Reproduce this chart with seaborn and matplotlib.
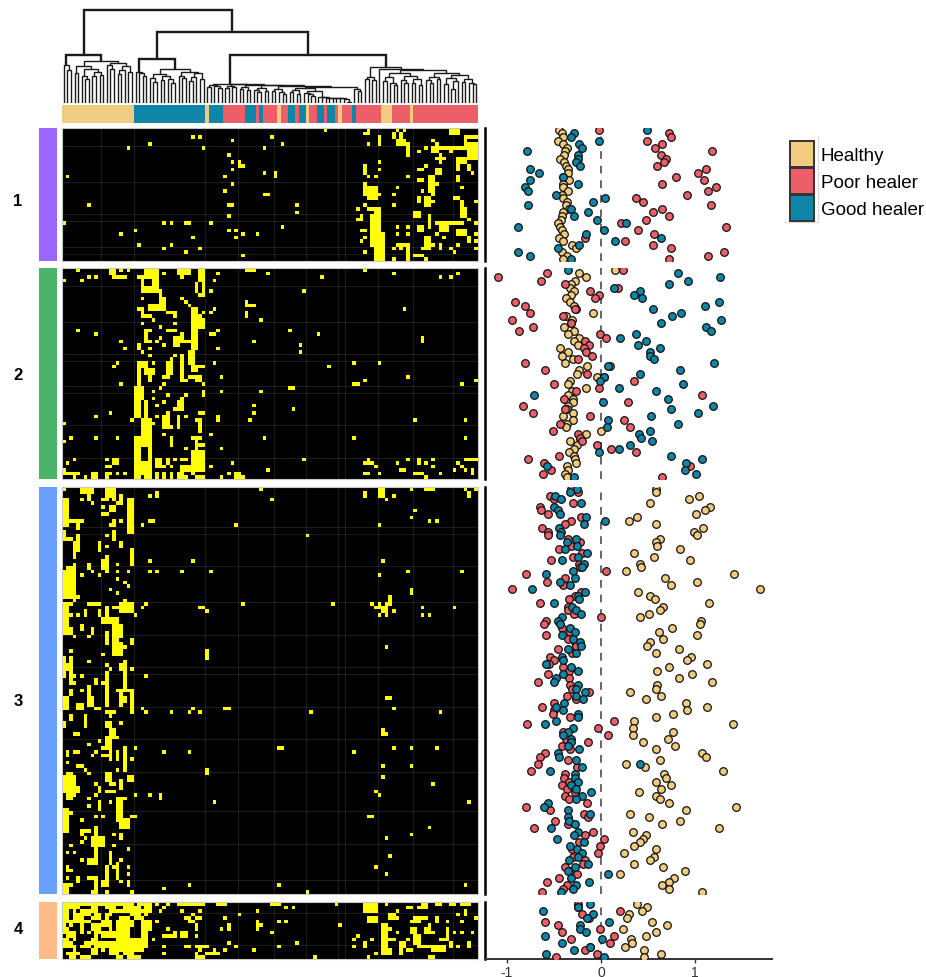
import numpy as np
import matplotlib
matplotlib.use("Agg")
import matplotlib.pyplot as plt
from matplotlib.colors import ListedColormap
from matplotlib.patches import Patch
from matplotlib.lines import Line2D
import seaborn as sns

sns.set_theme(style="white")
plt.rcParams['font.family'] = ['Liberation Sans', 'DejaVu Sans']

W, H = 926, 978
TAN, PINK, TEAL = '#F0CB80', '#EC5F69', '#0F86A8'
GROUP_NAMES = ['Healthy', 'Poor healer', 'Good healer']
N_COLS = 116
BLOCK_ROWS = [37, 59, 113, 16]
SCATTER_ROWS = [37, 59, 114, 16]
BLOCK_LABELS = ['1', '2', '3', '4']
BLOCK_COLORS = ['#9966FF', '#4CB36B', '#6AA0FF', '#FFBB88']

# sample annotation, as runs along the columns (0 healthy, 1 poor, 2 good)
ANNOT_GROUP = [0,2,0,2,1,2,1,2,1,0,1,2,1,2,0,1,2,1,2,1,0,1,2,1,0,1,0,1]
ANNOT_COUNT = [20,20,1,4,6,3,1,1,4,1,2,2,1,2,1,2,2,1,2,1,1,3,1,7,3,5,1,18]

# dendrogram as nested [height, left, right]; L is a leaf
L = None
TREE_H = [47.7, [38, L, [33, L, L]],
          [42, [37, [30, L, L], [34, [27, L, [24, L, L]], [31, [27, L, L], [28, L, L]]]],
           [40, [38, L, [34, L, L]], [37, [33, [29, L, L], L], [31, L, L]]]]]
TREE_T = [43.7, [31, L, [30, L, [27, L, L]]],
          [34, [29, [25, L, [21, L, L]], [27, [23, L, L], [24, L, [20, L, L]]]],
           [31, [27, L, [25, L, L]], [30, [26, [22, L, L], L], [24, L, L]]]]]
TREE_E = [6, L, [6, L, [5.5, L, [5.5, L, [5.5, L, [5, L, [5, L, [4.5, L, [1, L, L]]]]]]]]]
TREE_G1 = [17, [15, L, L], [16, L, L]]
TREE_G2 = [16, [14, L, L], [13, L, L]]
TREE_G3 = [15, [13, L, [11, L, L]], [12, L, L]]
TREE_G4 = [14, [12, L, L], [11, L, [9, L, L]]]
TREE_G5 = [13, [11, L, L], [9, L, L]]
TREE_G6 = [10, L, [9, L, [7, L, L]]]
TREE_R = [14, L, [12, L, L]]
TREE_PB = [19, TREE_G1, [18.5, TREE_G2, [18, TREE_G3, [17.5, TREE_G4,
           [16, [15, TREE_G5, [12, TREE_G6, TREE_E]], TREE_R]]]]]
TREE_P = [19.5, [18, [16, L, L], [17, L, [15, L, L]]], TREE_PB]
TREE_Q = [36, [26, [24, L, L], [23, L, L]],
          [34, L, [33,
           [30, [26, [22, L, L], [20, L, [18, L, L]]], [27, [23, L, [20, L, L]], [24, [20, L, L], [18, L, L]]]],
           [30, [26, [23, L, [20, L, L]], [24, L, L]],
            [28, [25, [19, L, L], [22, [14, L, L], L]], [24, [21, L, L], [20, L, [19, L, L]]]]]]]]
TREE = [93.5, TREE_H, [71, TREE_T, [47.7, TREE_P, TREE_Q]]]

# yellow cells of each block: single cells (row, col), runs (r0, r1, c0, c1)
CELLS1 = [(0,73),(0,85),(4,85),(5,18),(4,24),(2,36),(2,38),(5,39),(3,47),(2,58),(5,56),(4,61),(7,46),(9,47),(9,49),
 (11,47),(13,45),(15,47),(17,45),(12,56),(13,1),(21,7),(21,65),(23,65),(24,46),(26,0),(26,28),(26,30),(26,41),(27,61),
 (28,20),(29,16),(28,46),(28,48),(29,50),(29,54),(30,48),(30,36),(32,21),(33,28),(32,30),(33,38),(34,34),(35,50),
 (0,93),(0,95),(6,99),(5,101),(3,103),(4,104),(6,108),(0,110),(8,104),(8,106),(10,101),(9,88),(11,88),(13,85),(13,87),
 (13,96),(14,99),(14,100),(16,111),(17,100),(18,103),(15,104),(16,93),(18,92),(21,92),(20,103),(22,82),(21,84),
 (25,113),(26,115),(20,115),(27,93),(27,96),(29,93),(29,96),(29,104),(29,115),(31,115),(33,115),(30,106),(32,103),
 (32,110),(33,108),(34,109),(33,92),(33,94),(36,92),(36,101),(24,83),(34,84),(30,84),(31,83),(28,83)]
RECTS1 = [(1,1,84,85),(2,4,88,88),(1,2,92,92),(1,2,94,94),(3,4,93,95),(4,7,96,96),(5,5,104,108),(5,6,103,104),
 (2,4,112,112),(2,2,113,115),(5,5,109,113),(4,8,113,115),(1,1,108,110),(0,0,108,109),(7,9,105,105),(11,11,99,100),
 (11,12,104,105),(8,11,110,110),(9,9,111,112),(8,8,111,112),(10,11,113,113),(12,12,114,114),(13,14,110,110),
 (13,17,102,103),(10,12,84,84),(15,18,84,84),(16,19,85,86),(16,19,87,87),(18,18,88,88),(19,20,99,99),(19,21,101,102),
 (19,19,109,110),(20,22,111,111),(22,24,111,112),(23,24,98,99),(22,22,85,87),(22,32,87,88),(25,25,82,83),(24,26,86,86),
 (25,25,88,88),(27,32,86,87),(29,36,87,89),(33,36,88,89),(24,27,102,102),(27,28,99,100),(26,26,104,111),(27,28,105,107),
 (28,29,110,112),(30,31,113,113),(30,33,101,102),(33,33,100,101),(32,33,105,105),(32,32,93,96),(32,36,96,96),
 (35,35,98,100),(9,10,49,49),(10,10,50,50),(12,13,59,59),(18,18,56,57),(21,21,46,47),(26,26,34,35),(15,15,103,104),
 (28,28,83,84)]

CELLS2 = [(0,4),(0,16),(0,18),(1,57),(0,84),(1,92),(1,110),(2,105),(2,108),(2,72),(1,43),(3,42),(1,28),(2,17),(2,7),(2,9),
 (3,5),(3,0),(2,33),(6,41),(6,67),(8,22),(8,33),(9,34),(10,35),(9,51),(14,55),(11,95),(12,41),(11,42),(15,22),(15,31),
 (16,27),(14,25),(17,4),(18,9),(17,24),(19,27),(20,26),(20,24),(17,43),(17,63),(18,71),(20,53),(20,16),(22,17),(23,22),
 (22,24),(24,24),(21,28),(22,43),(21,66),(23,66),(24,33),(24,31),(25,30),(26,42),(26,15),(27,14),(26,25),(27,74),(26,81),
 (26,88),(30,38),(30,44),(30,96),(32,39),(32,28),(33,27),(32,16),(31,84),(32,111),(31,115),(34,25),(34,44),(34,55),(35,29),
 (35,34),(36,25),(37,28),(36,33),(38,26),(39,31),(41,9),(40,13),(41,26),(40,29),(44,30),(41,34),(38,53),(40,53),(42,52),
 (39,64),(42,98),(42,112),(43,0),(42,19),(43,25),(46,28),(46,41),(47,2),(47,9),(47,15),(47,56),(47,81),(47,112),(48,0),
 (50,34),(50,44),(53,3),(53,12),(54,1),(53,67),(53,85),(55,87),(54,93),(53,96),(54,101),(53,103),(55,103),(54,110),(55,111),
 (54,47),(55,41),(56,57),(56,109),(56,112),(53,31),(55,30),(58,3),(58,6),(58,12),(57,15),(57,17),(58,34),(57,36),(58,44),
 (57,46),(58,50),(57,88),(58,101),(57,105)]
RECTS2 = [(0,1,13,14),(0,2,23,26),(0,1,32,33),(0,1,34,35),(0,3,38,39),(0,0,51,53),(2,2,14,16),(2,2,21,23),(3,6,22,22),
 (3,6,25,26),(5,6,23,25),(6,8,27,27),(4,6,37,37),(3,7,39,39),(7,7,38,39),(8,10,27,28),(10,11,24,28),(11,16,36,37),
 (11,11,21,22),(11,13,22,22),(12,12,29,31),(13,13,31,31),(13,13,23,24),(14,16,38,39),(12,12,39,39),(13,13,37,38),(10,10,52,53),
 (9,10,51,51),(12,13,51,51),(17,20,23,23),(17,17,29,31),(19,21,31,32),(18,20,33,33),(20,20,34,35),(17,22,36,37),(18,18,41,42),
 (19,20,100,100),(21,22,21,21),(23,26,35,36),(26,29,29,30),(30,30,28,29),(25,31,33,33),(31,31,34,34),(27,28,36,37),
 (27,27,38,39),(26,27,21,23),(28,29,23,25),(30,31,24,24),(27,32,21,21),(33,36,20,22),(30,30,35,37),(31,31,37,38),(32,32,81,82),
 (33,33,63,64),(34,35,39,39),(37,39,32,33),(36,41,20,21),(37,41,23,23),(40,40,38,39),(41,44,28,29),(41,44,32,32),(42,42,37,38),
 (43,45,38,38),(41,42,43,43),(42,46,22,24),(47,49,20,24),(47,49,30,30),(47,47,36,38),(47,53,37,37),(49,49,38,39),
 (50,53,20,21),(49,53,24,24),(54,57,20,24),(58,58,20,21),(58,58,23,24),(53,54,14,15),(55,55,12,13),(54,54,84,86),(53,54,99,99),
 (53,53,112,115),(56,56,94,95),(56,57,114,114),(53,55,26,27),(53,54,29,29),(55,55,27,28),(53,53,33,34),(51,56,36,39),(55,56,33,35),
 (56,57,0,0),(57,57,1,4),(57,58,8,9),(57,57,12,13),(57,58,26,26),(57,58,28,28),(57,58,30,30),(57,58,32,33),(58,58,37,39),
 (57,58,48,49),(57,57,84,85),(57,57,98,100)]

CELLS3 = [(0,0),(0,55),(0,97),(0,112),(0,115),(2,24),(2,92),(3,90),(3,58),(3,5),(4,8),(3,14),(4,15),(5,11),(6,98),(8,97),(10,22),
 (10,48),(10,88),(9,16),(9,102),(9,104),(13,12),(13,68),(16,12),(20,24),(20,36),(20,89),(21,15),(21,3),(23,8),(24,5),(24,10),(23,15),
 (23,18),(23,24),(23,26),(23,33),(23,41),(23,96),(23,111),(24,88),(25,15),(26,17),(27,18),(28,13),(29,15),(30,4),(31,3),(31,17),
 (32,23),(33,22),(32,50),(32,75),(32,86),(32,88),(34,92),(33,100),(33,109),(35,100),(35,102),(35,88),(34,40),(35,20),(35,2),(35,4),
 (41,3),(41,7),(44,17),(45,2),(46,11),(44,90),(48,7),(49,12),(50,13),(50,19),(52,23),(52,5),(52,3),(56,5),(57,16),
 (58,90),(59,19),(61,22),(62,23),(62,30),(62,35),(61,36),(62,38),(62,69),(61,92),(62,105),(63,13),(65,16),(68,90),(68,4),(70,10),
 (71,7),(69,15),(72,20),(72,92),(72,97),(72,104),(73,28),(73,35),(73,81),(73,9),(74,8),(75,19),(76,1),(77,5),(78,6),(79,7),(78,15),
 (77,89),(77,97),(80,89),(82,9),(82,103),(84,87),(85,88),(85,20),(85,24),(85,3),(85,9),(86,7),(87,13),(87,42),(87,113),(88,7),
 (92,5),(91,9),(91,11),(94,102),(96,97),(97,90),(97,6),(98,5),(96,14),(99,14),(100,18),(99,2),(101,1),(101,3),(103,5),(102,91),(103,16),
 (105,14),(105,18),(107,18),(105,87),(107,90),(108,1),(109,16),(110,35),(110,60),(110,112),(111,28),(112,12),(112,19),(112,68)]
RECTS3 = [(0,1,5,8),(2,3,7,7),(0,2,12,14),(0,2,88,89),(1,2,84,84),(0,0,101,103),(1,2,113,113),(1,2,26,26),(3,3,11,12),(2,4,16,16),
 (4,6,18,19),(3,12,18,19),(5,6,13,14),(7,7,11,12),(3,10,0,1),(9,9,0,5),(10,11,4,4),(9,10,14,14),(10,10,13,13),(9,9,24,25),(12,14,0,0),
 (14,14,0,2),(13,17,4,4),(15,19,3,3),(17,17,3,4),(12,14,14,14),(15,17,10,10),(15,16,16,16),(17,21,19,19),(21,22,7,7),(19,21,12,12),
 (20,22,11,11),(22,23,12,12),(22,25,1,3),(23,30,0,3),(28,29,97,97),(32,32,0,2),(33,40,0,1),(32,32,7,10),(32,34,16,19),(30,32,91,91),
 (32,32,90,91),(33,33,87,90),(34,34,89,90),(34,35,90,90),(33,33,38,39),(33,33,14,15),(33,37,12,12),(34,35,6,6),(34,35,10,10),(36,37,11,13),
 (36,46,14,15),(38,40,16,16),(39,40,2,2),(38,39,5,5),(39,40,8,8),(40,43,12,12),(40,41,16,16),(42,43,19,19),(43,46,16,16),(46,46,14,16),
 (45,47,40,40),(47,52,0,0),(47,54,2,2),(49,50,1,1),(48,52,17,17),(49,50,16,16),(54,54,2,3),(53,54,9,9),(51,60,12,12),(54,54,11,11),
 (52,56,17,17),(56,56,15,19),(56,58,19,19),(56,57,2,2),(55,57,7,7),(58,58,90,91),(58,60,16,16),(58,59,17,17),(58,61,0,1),(58,60,7,8),
 (60,61,4,5),(61,61,9,10),(60,62,19,19),(61,61,45,46),(62,62,12,14),(63,64,2,2),(65,66,0,0),(63,66,6,6),(65,66,12,13),(67,69,13,14),
 (67,68,89,89),(68,68,3,4),(69,71,12,13),(72,72,11,13),(72,72,60,61),(73,74,1,1),(73,73,3,4),(73,75,13,13),(73,75,15,15),(72,78,17,17),
 (74,74,11,12),(77,77,4,5),(78,79,40,40),(79,80,1,2),(80,84,0,3),(83,84,4,4),(79,81,12,13),(82,82,13,14),(80,81,18,19),(81,83,16,16),
 (83,84,10,10),(84,84,12,14),(85,86,1,2),(85,86,27,27),(86,86,15,17),(86,92,15,16),(87,89,10,10),(89,90,0,1),(90,90,0,2),(91,95,0,1),
 (91,91,19,20),(91,91,85,86),(92,94,16,18),(95,95,6,7),(95,96,5,5),(94,104,9,9),(97,99,8,11),(96,97,16,16),(103,103,7,9),(104,104,7,9),
 (101,104,13,13),(104,108,15,15),(105,106,1,1),(106,106,1,2),(108,109,4,4),(108,108,7,8),(108,113,9,9),(105,110,12,12),(109,110,11,11),
 (109,110,18,18),(110,110,0,2),(111,112,0,1),(112,112,8,9)]

BASE4 = [(0,7,0,24),(8,12,0,23),(13,15,0,19),(13,13,20,22),(15,15,20,21),(10,10,25,25),(5,5,26,26)]
HOLES4 = [(0,0,20,20),(1,1,5,7),(1,1,10,11),(1,1,15,16),(1,1,22,22),(2,3,2,2),(2,2,4,4),(2,2,10,12),(3,3,8,8),(3,3,11,11),(3,3,14,16),
 (3,3,17,18),(3,3,22,22),(3,4,24,25),(4,4,2,2),(4,4,6,7),(4,4,11,11),(4,4,13,15),(4,4,19,19),(4,4,23,23),(5,5,8,10),(5,5,14,14),(5,6,20,21),
 (6,6,1,1),(6,6,3,4),(6,7,6,7),(6,7,14,14),(7,7,2,4),(7,7,11,12),(7,9,19,21),(8,9,4,8),(9,9,0,0),(9,9,10,10),(10,10,2,2),(10,10,4,7),
 (10,10,10,14),(11,11,3,5),(12,12,4,4),(12,12,8,8),(13,13,0,2),(13,13,4,7),(13,13,10,10),(13,13,12,12),(14,14,0,0),(14,14,5,7),(14,14,10,12),
 (14,14,16,16),(15,15,0,1),(15,15,4,4),(15,15,8,12),(15,15,13,14),(15,15,17,17)]
CELLS4 = [(8,5),(8,7),(0,26),(2,27),(1,28),(0,29),(0,38),(0,39),(2,33),(3,36),(2,38),(6,37),(3,49),(2,54),(1,62),(1,64),(4,45),(7,44),(8,58),
 (5,60),(5,62),(6,77),(0,76),(0,90),(1,99),(3,110),(2,93),(4,93),(5,107),(5,111),(4,115),(6,102),(8,93),(8,103),(8,109),(8,111),(8,114),
 (10,96),(12,110),(13,94),(14,94),(14,87),(15,85),(15,70),(11,65),(12,60),(13,53),(12,48),(11,46),(13,45),(13,38),(14,37),(13,42),(14,43),
 (12,28),(14,28),(7,29),(8,31),(9,37),(10,81),(9,82),(12,81),(10,86)]
RECTS4 = [(0,0,32,37),(0,0,43,45),(0,0,58,60),(0,2,84,87),(1,1,96,97),(0,1,100,101),(0,0,104,105),(0,0,108,109),(0,0,111,113),(2,3,112,112),
 (4,4,34,35),(4,4,37,38),(5,5,35,36),(7,7,37,37),(6,7,46,46),(5,7,54,54),(6,6,55,55),(3,4,91,92),(5,5,97,98),(4,4,98,101),(5,5,99,99),(4,5,104,104),
 (4,5,85,87),(6,13,89,90),(7,7,90,91),(7,8,97,98),(7,8,101,102),(9,11,98,99),(12,12,99,102),(10,10,105,106),(7,10,107,107),(11,12,108,108),
 (11,12,113,113),(12,13,103,106),(11,12,94,95),(13,13,96,97),(10,10,90,92),(13,14,89,91),(11,12,84,84),(12,12,37,40),(15,15,37,39),(14,14,40,43),
 (12,12,34,35),(9,9,28,31),(8,9,33,34),(15,15,102,103)]

# faint rules of the source image
GRID_COLS = [11, 20, 40, 49, 59, 68, 77, 79, 88, 98, 109]
GRID_ROWS = [[5, 15, 24, 26, 33, 35], [5, 15, 24, 26, 33, 35, 44, 53],
             [11, 13, 22, 32, 41, 50, 52, 61, 70, 79, 90, 99, 109], [3, 12]]

# scatter values per row of each block
HEALTHY_1 = [-.45,-.41,-.40,-.46,-.40,-.36,-.38,-.39,-.44,-.39,-.37,-.35,-.35,-.40,-.34,-.40,-.40,-.35,-.42,-.40,-.36,-.37,-.34,-.40,-.41,-.43,-.46,-.44,-.41,-.39,-.45,-.40,-.31,-.27,-.41,-.36,-.40]
POOR_1 = [-.02,.72,.74,.49,.65,.57,1.18,.64,.69,.67,.60,1.12,1.03,.80,1.10,.65,1.22,1.14,.92,.37,.45,1.17,.65,.55,.72,.48,.21,1.33,.39,.56,-.17,.26,.55,.74,1.31,1.14,.72]
GOOD_1 = [.49,-.29,-.32,-.02,-.23,-.20,-.79,-.24,-.24,-.27,-.22,-.75,-.66,-.40,-.75,-.24,-.81,-.78,-.48,.04,-.08,-.78,-.32,-.14,-.29,-.04,.27,-.88,.03,-.16,.64,.15,-.23,-.46,-.88,-.76,-.32]
HEALTHY_2 = [.15,-.23,-.16,-.28,-.32,-.33,-.29,-.32,-.37,-.33,-.29,-.27,-.09,-.37,-.31,-.32,-.39,-.29,-.35,-.23,-.29,-.25,-.44,-.35,-.41,-.30,-.38,-.15,-.23,-.26,-.04,-.33,-.35,-.16,-.31,-.35,-.30,-.30,-.35,-.36,-.30,-.40,-.30,-.36,-.37,0.0,-.16,-.22,-.33,-.26,-.29,-.34,-.29,-.28,-.27,-.36,-.35,-.38,-.36]
POOR_2 = [.23,-.57,-1.10,-.64,-.38,.18,-.12,-.02,-.06,-.92,-.81,-.28,-.76,-.40,-.95,-.32,-.72,-.87,-.01,.05,-.17,-.13,-.18,-.16,-.10,-.24,-.81,.10,-.60,-.15,.03,.35,-.50,-.02,-.27,1.07,-.39,.29,-.83,-.38,-.72,-.12,.24,-.44,.31,-.51,-.24,-.22,-.20,-.04,.11,.37,-.45,-.78,-.61,.95,-.53,-.62,.65]
GOOD_2 = [-.35,.82,1.27,.93,.72,.14,.41,.35,.44,1.26,1.11,.55,.85,.76,1.28,.64,1.12,1.17,.37,.20,.48,.39,.63,.52,.52,.56,1.20,.07,.84,.42,.03,-.01,.87,.19,.59,-.71,.71,.02,1.19,.74,1.03,.53,.07,.82,.06,.52,.40,.43,.54,.31,.19,-.02,.74,1.07,.90,-.57,.89,1.01,-.29]
HEALTHY_3 = [.59,.58,1.04,.94,.52,1.16,1.11,1.01,.38,.30,.58,1.09,.99,1.02,.63,.59,.60,.84,.35,.56,.95,.42,.43,.27,1.41,.68,1.02,.74,1.69,.39,.52,.57,1.15,.66,.63,.51,.42,1.06,1.05,.76,.62,1.02,.66,.52,.49,.83,.59,.96,.91,1.13,.72,.60,.97,.83,1.18,.60,.59,.31,.64,.48,.90,1.13,.91,.77,.59,.35,1.40,.34,.77,
             .34,.71,.45,.79,.58,1.07,1.12,.63,.27,.47,1.30,.67,.69,.59,.74,.64,.40,.59,.63,.72,1.44,.90,.31,.51,.84,.65,1.26,.34,.48,.45,.42,.35,.58,.24,.56,.52,.35,.66,.89,.20,.78,.72,.65,.72,1.07]
POOR_3 = [-.32,-.24,-.54,-.50,-.30,-.65,-.64,-.56,-.21,-.32,-.38,-.63,-.56,-.56,-.35,-.22,-.32,-.45,-.20,-.30,-.53,-.23,-.22,.05,-.80,-.38,-.57,-.40,-.95,-.21,-.28,-.34,-.65,-.35,-.35,-.29,.00,-.59,-.61,-.42,-.33,-.59,-.35,-.28,-.27,-.46,-.31,-.54,-.50,-.55,-.40,-.34,-.56,-.34,-.67,-.33,-.31,-.13,-.36,-.27,-.50,-.63,-.50,-.51,-.33,.14,-.79,-.03,-.40,
          .07,-.37,-.14,-.42,-.33,-.60,-.65,-.35,-.67,-.26,-.74,-.38,-.39,-.34,-.41,-.36,-.28,-.38,-.34,-.15,-.80,-.54,-.18,-.14,-.49,-.35,-.71,-.08,-.17,.03,-.23,-.01,-.31,-.03,-.30,-.17,-.19,-.38,-.33,-.26,-.45,-.57,-.36,-.40,-.63]
GOOD_3 = [-.26,-.33,-.49,-.43,-.21,-.50,-.46,-.44,-.16,.04,-.18,-.45,-.43,-.44,-.27,-.36,-.26,-.38,-.15,-.25,-.42,-.18,-.20,-.30,-.59,-.28,-.44,-.33,-.73,-.17,-.24,-.23,-.50,-.31,-.27,-.21,-.41,-.46,-.44,-.33,-.28,-.42,-.30,-.22,-.21,-.35,-.27,-.42,-.40,-.58,-.32,-.25,-.40,-.48,-.50,-.25,-.27,-.17,-.27,-.19,-.39,-.48,-.40,-.25,-.25,-.48,-.60,-.30,-.35,
          -.40,-.32,-.32,-.35,-.23,-.46,-.45,-.27,.42,-.20,-.54,-.28,-.28,-.24,-.32,-.27,-.11,-.20,-.27,-.56,-.61,-.35,-.12,-.35,-.34,-.28,-.53,-.24,-.29,-.47,-.18,-.33,-.26,-.20,-.25,-.34,-.14,-.28,-.35,.07,-.32,-.13,-.27,-.30,-.43]
HEALTHY_4 = [.38,.49,.44,.30,.28,.54,.70,.23,.58,.48,.32,.33,.25,.46,.64,.46]
POOR_4 = [-.24,-.24,.20,-.20,-.13,-.60,-.46,-.01,-.41,.14,-.32,.10,-.12,-.17,-.04,-.48]
GOOD_4 = [-.12,-.24,-.62,-.09,-.15,.08,-.22,-.22,-.16,-.60,.01,-.41,-.12,-.29,-.59,.03]
X_TICKS = [-1, 0, 1]

HEALTHY = [HEALTHY_1, HEALTHY_2, HEALTHY_3, HEALTHY_4]
POOR = [POOR_1, POOR_2, POOR_3, POOR_4]
GOOD = [GOOD_1, GOOD_2, GOOD_3, GOOD_4]
CELLS = [CELLS1, CELLS2, CELLS3, CELLS4]
RECTS = [RECTS1, RECTS2, RECTS3, BASE4 + RECTS4]
HOLES = [[], [], [], HOLES4]

# layout, in pixels of the figure
BLOCK_Y = [(129, 262), (269, 480), (488, 895), (903, 960)]
LABEL_Y = [201, 376, 702, 930]
HM_X = (62, 478)
SIDE_X = (39, 57)
SC_X = (485, 772)


def box(x0, y0, x1, y1):
    return [x0 / W, 1 - y1 / H, (x1 - x0) / W, (y1 - y0) / H]


def build(nrows, cells, rects, holes):
    m = np.zeros((nrows, N_COLS))
    for r0, r1, c0, c1 in rects:
        m[r0:r1 + 1, c0:c1 + 1] = 1
    for r0, r1, c0, c1 in holes:
        m[r0:r1 + 1, c0:c1 + 1] = 0
    for r, c in cells:
        m[r, c] = 1
    return m


fig = plt.figure(figsize=(W / 100, H / 100), dpi=100, facecolor='white')

# dendrogram
ax_d = fig.add_axes(box(HM_X[0], 4, HM_X[1], 104))
counter = [0]


def walk(node, ax):
    if node is None:
        counter[0] += 1
        return counter[0] - 0.5, 0.0
    h, a, b = node
    xa, ha = walk(a, ax)
    xb, hb = walk(b, ax)
    lw = 1.7 if h > 43 else 1.0
    ax.plot([xa, xa, xb, xb], [ha, h, h, hb], color='#1a1a1a', lw=lw, solid_joinstyle='miter')
    return (xa + xb) / 2, h


walk(TREE, ax_d)
ax_d.set_xlim(0, N_COLS)
ax_d.set_ylim(0, 100)
ax_d.axis('off')

# annotation bar
ax_a = fig.add_axes(box(HM_X[0], 106, HM_X[1], 124))
annot = np.repeat(ANNOT_GROUP, ANNOT_COUNT).reshape(1, -1)
sns.heatmap(annot, cmap=ListedColormap([TAN, PINK, TEAL]), vmin=0, vmax=2, cbar=False,
            xticklabels=False, yticklabels=False, ax=ax_a)

for i, (y0, y1) in enumerate(BLOCK_Y):
    # side colour bar
    ax_s = fig.add_axes(box(SIDE_X[0], y0, SIDE_X[1], y1))
    sns.heatmap(np.zeros((1, 1)), cmap=ListedColormap([BLOCK_COLORS[i]]), cbar=False,
                xticklabels=False, yticklabels=False, ax=ax_s)
    fig.text(18 / W, 1 - LABEL_Y[i] / H, BLOCK_LABELS[i], fontsize=12, fontweight='bold',
             color='black', ha='center', va='center')

    # binary heat map
    ax_h = fig.add_axes(box(HM_X[0], y0, HM_X[1], y1))
    mat = build(BLOCK_ROWS[i], CELLS[i], RECTS[i], HOLES[i])
    sns.heatmap(mat, cmap=ListedColormap(['black', '#FFFF00']), vmin=0, vmax=1, cbar=False,
                xticklabels=False, yticklabels=False, ax=ax_h)
    for c in GRID_COLS:
        ax_h.axvline(c, color='white', alpha=0.11, lw=0.8)
    for r in GRID_ROWS[i]:
        ax_h.axhline(r, color='white', alpha=0.11, lw=0.8)
    for s in ax_h.spines.values():
        s.set_visible(True)
        s.set_color('#c8c8c8')
        s.set_linewidth(0.8)

    # scatter panel
    ax_p = fig.add_axes(box(SC_X[0], y0, SC_X[1], y1))
    ax_p.patch.set_alpha(0)
    ax_p.axvline(0, color='#666666', lw=1.4, ls=(0, (4, 3.5)), zorder=1)
    for vals, col in zip((HEALTHY[i], POOR[i], GOOD[i]), (TAN, PINK, TEAL)):
        sns.scatterplot(x=np.array(vals), y=np.arange(len(vals)), color=col, edgecolor='#111111',
                        s=30, linewidth=0.9, legend=False, ax=ax_p, zorder=3)
    ax_p.set_xlim(-1.234, 1.819)
    ax_p.set_ylim(SCATTER_ROWS[i] - 0.5, -0.5)
    ax_p.set_ylabel('')
    ax_p.set_yticks([])
    for s in ('top', 'right'):
        ax_p.spines[s].set_visible(False)
    ax_p.spines['left'].set_color('black')
    ax_p.spines['left'].set_linewidth(1.8)
    ax_p.spines['bottom'].set_visible(i == 3)
    if i == 3:
        ax_p.spines['bottom'].set_color('#333333')
        ax_p.spines['bottom'].set_linewidth(1.4)
        ax_p.set_xticks(X_TICKS)
        ax_p.set_xticklabels([str(t) for t in X_TICKS])
        ax_p.tick_params(axis='x', length=3, width=1, color='#333333', labelsize=10,
                         labelcolor='#333333', bottom=True, pad=1)
    else:
        ax_p.set_xticks([])

# legend
handles = [Patch(facecolor=c, edgecolor='#333333', linewidth=1.4) for c in (TAN, PINK, TEAL)]
fig.legend(handles, GROUP_NAMES, loc='upper left', bbox_to_anchor=(790 / W, 1 - 142 / H),
           frameon=False, fontsize=13.5, borderpad=0, borderaxespad=0, handlelength=1.3,
           handleheight=1.75, labelspacing=0.055, handletextpad=0.35, labelcolor='black')
fig.add_artist(Line2D([818 / W, 818 / W, 785 / W], [1 - 138 / H, 1 - 223 / H, 1 - 223 / H],
                      color='#d8d8d8', lw=0.8))

fig.savefig('out.png', dpi=100, facecolor='white')
